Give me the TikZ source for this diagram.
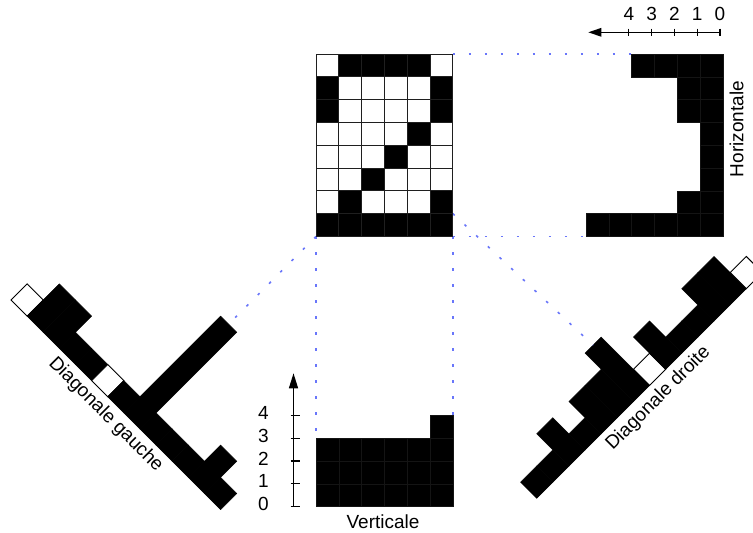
\documentclass[tikz,border=0pt]{standalone}
\usepackage{fontspec}
\setmainfont{Liberation Sans}
\usetikzlibrary{arrows.meta}

\definecolor{projblue}{RGB}{105,118,250}
\colorlet{cell0}{white}
\colorlet{cell1}{black}

\tikzset{
  gridcell/.style={draw=black!88,line width=0.8pt},
  barcell/.style={fill=black,draw=black!92,line width=0.4pt},
  diagbar/.style={fill=black,draw=black,line width=0.5pt},
  diagempty/.style={fill=white,draw=black,line width=1pt},
  proj/.style={draw=projblue,line width=1.6pt,dash pattern=on 2.6pt off 13.4pt},
  haxis/.style={line width=1.4pt,-{Triangle[length=13pt,width=8.5pt]}},
  vaxis/.style={line width=1.4pt,-{Triangle[length=15pt,width=9pt]}},
  axtick/.style={line width=1.2pt},
  lbl/.style={font=\fontsize{19}{22}\selectfont,inner sep=0pt},
}

\begin{document}
\begin{tikzpicture}[x=1pt,y=-1pt]
\clip (0,0) rectangle (753,533);
\fill[white] (0,0) rectangle (753,533);

% corner points of the 6x8 image and of the projections
\coordinate (gTR) at (452.8,54);
\coordinate (gBR) at (452.8,236.4);
\coordinate (gBL) at (316,236.4);
\coordinate (gR7) at (452.8,213.6);
\coordinate (hTop) at (631.6,54);
\coordinate (hBot) at (586,236.4);
\coordinate (vLeft) at (316,438.1);
\coordinate (vRight) at (452.8,415.3);

% diagonal projections: left one (anti-diagonals)
\begin{scope}[shift={(11pt,-300pt)},x={(0.7071pt,-0.7071pt)},y={(0.7071pt,0.7071pt)}]
  \foreach \n [count=\i from 0] in {0,2,2,1,1,0,1,6,1,1,1,2,1} {
    \ifnum\n=0
      \draw[diagempty] ({\i*22.8},0) -- ({(\i+1)*22.8},0) -- ({(\i+1)*22.8},22.8) -- ({\i*22.8},22.8) -- cycle;
    \else
      \draw[diagbar] ({\i*22.8},0) -- ({(\i+1)*22.8},0) -- ({(\i+1)*22.8},{\n*22.8}) -- ({\i*22.8},{\n*22.8}) -- cycle;
    \fi
  }
  \coordinate (gTip) at ({7.5*22.8},{6*22.8});
  \node[lbl,rotate=-45] (gaucheLabel) at (148.2,-14.2) {Diagonale gauche};
\end{scope}

% diagonal projections: right one (diagonals)
\begin{scope}[shift={(536.7pt,-498.3pt)},x={(0.7071pt,0.7071pt)},y={(-0.7071pt,0.7071pt)}]
  \foreach \n [count=\i from 0] in {1,1,2,1,2,2,3,0,2,1,1,2,2,0} {
    \ifnum\n=0
      \draw[diagempty] ({\i*22.8},0) -- ({(\i+1)*22.8},0) -- ({(\i+1)*22.8},22.8) -- ({\i*22.8},22.8) -- cycle;
    \else
      \draw[diagbar] ({\i*22.8},0) -- ({(\i+1)*22.8},0) -- ({(\i+1)*22.8},{\n*22.8}) -- ({\i*22.8},{\n*22.8}) -- cycle;
    \fi
  }
  \coordinate (dTip) at ({6.5*22.8},{3*22.8});
  \node[lbl,rotate=45] (droiteLabel) at (156.7,-15.4) {Diagonale droite};
\end{scope}

% projection guides
\draw[proj] (gTR) -- (hTop);
\draw[proj] (gBR) -- (hBot);
\draw[proj] (gBL) -- (vLeft);
\draw[proj] (gBR) -- (vRight);
\draw[proj] (gBL) -- (gTip);
\draw[proj] (gR7) -- (dTip);

% the binary image
\foreach \row [count=\r from 0] in {{0,1,1,1,1,0},{1,0,0,0,0,1},{1,0,0,0,0,1},{0,0,0,0,1,0},{0,0,0,1,0,0},{0,0,1,0,0,0},{0,1,0,0,0,1},{1,1,1,1,1,1}} {
  \foreach \v [count=\c from 0] in \row {
    \draw[gridcell,fill=cell\v] ({316+\c*22.8},{54+\r*22.8}) rectangle ++(22.8,22.8);
  }
}

% horizontal projection
\foreach \n [count=\r from 0] in {4,2,2,1,1,1,2,6} {
  \foreach \k in {1,...,\n} {
    \draw[barcell] ({722.8-\k*22.8},{54+\r*22.8}) rectangle ++(22.8,22.8);
  }
}
\node[lbl,rotate=90] (hLabel) at (736.5,129) {Horizontale};

% horizontal scale
\coordinate (hAxis0) at (720,32.3);
\coordinate (hAxisEnd) at (588.3,32.3);
\draw[haxis] (hAxis0) -- (hAxisEnd);
\foreach \k in {0,...,4} {
  \coordinate (ht\k) at ({720-\k*22.8},32.3);
  \draw[axtick] ([yshift=3.7pt]ht\k) -- ([yshift=-3.7pt]ht\k);
  \node[lbl] (hn\k) at ({720-\k*22.8},14) {\k};
}

% vertical projection
\foreach \n [count=\c from 0] in {3,3,3,3,3,4} {
  \foreach \k in {1,...,\n} {
    \draw[barcell] ({316+\c*22.8},{506.5-\k*22.8}) rectangle ++(22.8,22.8);
  }
}
\node[lbl] (vLabel) at (383,521.5) {Verticale};

% vertical scale
\coordinate (vAxis0) at (293.5,506.5);
\coordinate (vAxisEnd) at (293.5,373.3);
\draw[vaxis] (vAxis0) -- (vAxisEnd);
\foreach \k in {0,...,4} {
  \coordinate (vt\k) at (293.5,{506.5-\k*22.8});
  \draw[axtick] ([xshift=-3pt]vt\k) -- ([xshift=6.5pt]vt\k);
  \node[lbl] (vn\k) at (263.5,{504-\k*22.8}) {\k};
}
\end{tikzpicture}
\end{document}
